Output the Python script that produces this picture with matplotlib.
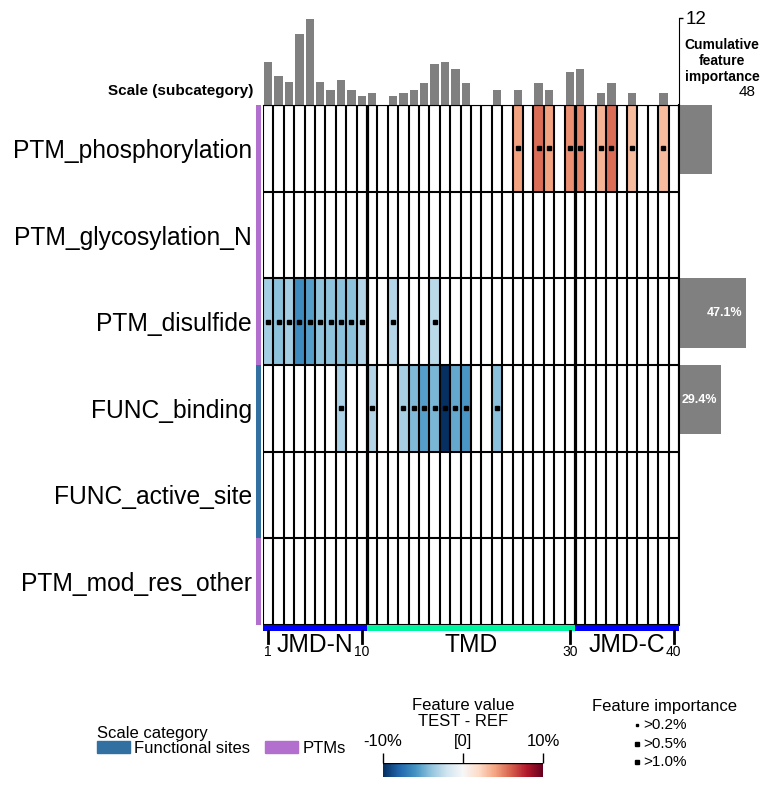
import numpy as np
import matplotlib
matplotlib.use("Agg")
import matplotlib.pyplot as plt
from matplotlib.patches import Patch
from matplotlib.cm import ScalarMappable
from matplotlib.colors import Normalize

plt.rcParams['font.family'] = ['Liberation Sans', 'DejaVu Sans']

# --- data ---
scales = ["PTM_phosphorylation", "PTM_glycosylation_N", "PTM_disulfide",
          "FUNC_binding", "FUNC_active_site", "PTM_mod_res_other"]
scale_cats = ["PTMs", "PTMs", "PTMs", "Functional sites", "Functional sites", "PTMs"]
cat_colors = {"Functional sites": "#3170a0", "PTMs": "#b36fcd"}

phos_pos = [25, 27, 28, 30, 31, 33, 34, 36, 39]
phos_val = [4.0, 5.6, 4.0, 4.6, 4.9, 3.4, 5.6, 3.2, 3.2]
disulfide_pos = [1, 2, 3, 4, 5, 6, 7, 8, 9, 10, 13, 17]
disulfide_val = [-3.4, -4.1, -3.4, -6.3, -5.5, -4.0, -4.0, -4.1, -4.1, -2.9, -2.9, -2.7]
binding_pos = [8, 11, 14, 15, 16, 17, 18, 19, 20, 23]
binding_val = [-3.1, -2.9, -3.3, -4.4, -5.5, -4.6, -10.0, -5.1, -5.8, -4.2]

# cumulative importance per residue position (top bars)
pos_importance = [6.0, 4.0, 3.2, 9.8, 11.8, 3.2, 2.1, 3.5, 2.1, 1.3,
                  1.6, 0.0, 1.3, 1.6, 2.1, 3.1, 5.7, 6.0, 5.0, 3.1,
                  0.0, 0.0, 2.1, 0.0, 2.1, 0.0, 3.1, 2.1, 0.0, 4.5,
                  5.0, 0.0, 1.6, 3.1, 0.0, 1.6, 0.0, 0.0, 1.6, 0.0]
# cumulative importance per scale (right bars)
scale_importance = [23.5, 0.0, 47.1, 29.4, 0.0, 0.0]

tmd_start, tmd_stop, seq_len = 11, 30, 40
pos_ticks = [1, 10, 30, 40]

# --- build matrix ---
n_rows, n_cols = len(scales), seq_len
mat = np.full((n_rows, n_cols), np.nan)
dots = []
for row, (pos, val) in zip([0, 2, 3], [(phos_pos, phos_val),
                                       (disulfide_pos, disulfide_val),
                                       (binding_pos, binding_val)]):
    for p, v in zip(pos, val):
        mat[row, p - 1] = v
        dots.append((p, row + 0.5))

W, H = 766, 787
fig = plt.figure(figsize=(W / 100, H / 100), dpi=100)

def box(x0, y0, x1, y1):
    return [x0 / W, 1 - y1 / H, (x1 - x0) / W, (y1 - y0) / H]

cmap = plt.get_cmap("RdBu_r").copy()
cmap.set_bad("white")

# heatmap
ax = fig.add_axes(box(263, 105, 679, 625))
ax.imshow(mat, cmap=cmap, vmin=-10, vmax=10, aspect="auto",
          extent=[0.5, n_cols + 0.5, n_rows, 0], interpolation="nearest")
for k in range(n_cols + 1):
    lw = 2.3 if k in (tmd_start - 1, tmd_stop) else 1.5
    ax.axvline(0.5 + k, color="black", lw=lw)
for k in range(n_rows + 1):
    ax.axhline(k, color="black", lw=1.5)
dx, dy = zip(*dots)
ax.plot(dx, dy, "s", color="black", ms=3.4, ls="none")
ax.set_xlim(0.5, n_cols + 0.5)
ax.set_ylim(n_rows, 0)
ax.set_xticks([])
ax.set_yticks(np.arange(n_rows) + 0.5)
ax.set_yticklabels(scales, fontsize=17.75)
ax.tick_params(axis="y", length=0, pad=8)
for s in ax.spines.values():
    s.set_visible(False)

# category strip on the left
ax_c = fig.add_axes(box(256, 105, 261, 625))
ax_c.bar([0] * n_rows, [1] * n_rows, bottom=np.arange(n_rows), width=1,
         color=[cat_colors[c] for c in scale_cats])
ax_c.set_xlim(-0.5, 0.5)
ax_c.set_ylim(n_rows, 0)
ax_c.axis("off")

# top bars
ax_t = fig.add_axes(box(263, 18, 679, 105))
ax_t.bar(np.arange(1, n_cols + 1), pos_importance, width=0.8, color="gray")
ax_t.set_xlim(0.5, n_cols + 0.5)
ax_t.set_ylim(0, 12)
ax_t.set_xticks([])
ax_t.yaxis.tick_right()
ax_t.set_yticks([12])
ax_t.tick_params(axis="y", length=3, width=1, labelsize=13.5, pad=2)
for side in ["left", "top"]:
    ax_t.spines[side].set_visible(False)
ax_t.spines["bottom"].set_linewidth(0.8)

# right bars
ax_r = fig.add_axes(box(679, 105, 679 + 48 * 67 / 47.1, 625))
ax_r.barh(np.arange(n_rows) + 0.4, scale_importance, height=0.8, color="gray")
label_min = 25
for i, v in enumerate(scale_importance):
    if v > label_min:
        ax_r.text(v - 2.8, i + 0.4, f"{v}%", ha="right", va="center",
                  color="white", fontweight="bold", fontsize=9)
ax_r.set_xlim(0, 48)
ax_r.set_ylim(n_rows, 0)
ax_r.set_yticks([])
ax_r.xaxis.tick_top()
ax_r.set_xticks([48])
ax_r.tick_params(axis="x", length=0, labelsize=11, pad=4)
for side in ["right", "top", "bottom"]:
    ax_r.spines[side].set_visible(False)
ax_r.spines["left"].set_linewidth(1.5)

fig.text(722 / W, 1 - 61 / H, "Cumulative\nfeature\nimportance", ha="center",
         va="center", fontsize=10, fontweight="bold", linespacing=1.15)
fig.text(253 / W, 1 - 91 / H, "Scale (subcategory)", ha="right", va="center",
         fontsize=11, fontweight="bold")

# TMD / JMD bar and position ticks
ax_b = fig.add_axes(box(263, 625, 679, 665))
ax_b.set_xlim(0.5, n_cols + 0.5)
ax_b.set_ylim(40, 0)
regions = [("JMD-N", 1, tmd_start - 1, "blue"),
           ("TMD", tmd_start, tmd_stop, "#00f5a0"),
           ("JMD-C", tmd_stop + 1, seq_len, "blue")]
for name, a, b, col in regions:
    ax_b.bar((a + b) / 2, 6, bottom=0, width=b - a + 1, color=col)
    ax_b.text((a + b) / 2, 20, name, ha="center", va="center", fontsize=17.75)
for p in pos_ticks:
    ax_b.plot([p, p], [6, 18], color="black", lw=2)
    ax_b.text(p, 27.5, str(p), ha="center", va="center", fontsize=10)
ax_b.axis("off")

# legend: scale category
handles = [Patch(color=cat_colors[c], label=c) for c in ["Functional sites", "PTMs"]]
fig.legend(handles=handles, loc="upper left", bbox_to_anchor=(97 / W, 1 - 726 / H),
           ncol=2, frameon=False, title="Scale category", alignment="left",
           fontsize=12, title_fontsize=12, borderpad=0, borderaxespad=0,
           handlelength=2.0, handleheight=0.7, handletextpad=0.25,
           columnspacing=0.85, labelspacing=0)

# colorbar
fig.text(463 / W, 1 - 705 / H, "Feature value", ha="center", va="center", fontsize=12)
fig.text(463 / W, 1 - 722 / H, "TEST - REF", ha="center", va="center", fontsize=12)
ax_cb = fig.add_axes(box(383, 763, 543, 777))
cb = fig.colorbar(ScalarMappable(norm=Normalize(-10, 10), cmap="RdBu_r"),
                  cax=ax_cb, orientation="horizontal", ticks=[-10, 0, 10])
cb.outline.set_visible(False)
ax_cb.xaxis.set_ticks_position("top")
ax_cb.set_xticklabels(["-10%", "[0]", "10%"])
ax_cb.tick_params(axis="x", length=7, width=1, labelsize=12, pad=3)
ax_cb.axhline(1, color="black", lw=1)

# legend: feature importance
fig.text(664 / W, 1 - 707 / H, "Feature importance", ha="center", va="center", fontsize=12)
ax_l = fig.add_axes(box(620, 715, 720, 772))
ax_l.set_xlim(620, 720)
ax_l.set_ylim(772, 715)
imp_labels = [">0.2%", ">0.5%", ">1.0%"]
imp_sizes = [1.6, 2.5, 3.4]
for k, (lab, ms) in enumerate(zip(imp_labels, imp_sizes)):
    y = 725 + k * 18.5
    ax_l.plot(637, y, "s", color="black", ms=ms)
    ax_l.text(643, y, lab, ha="left", va="center", fontsize=11)
ax_l.axis("off")

fig.savefig("out.png", dpi=100)
